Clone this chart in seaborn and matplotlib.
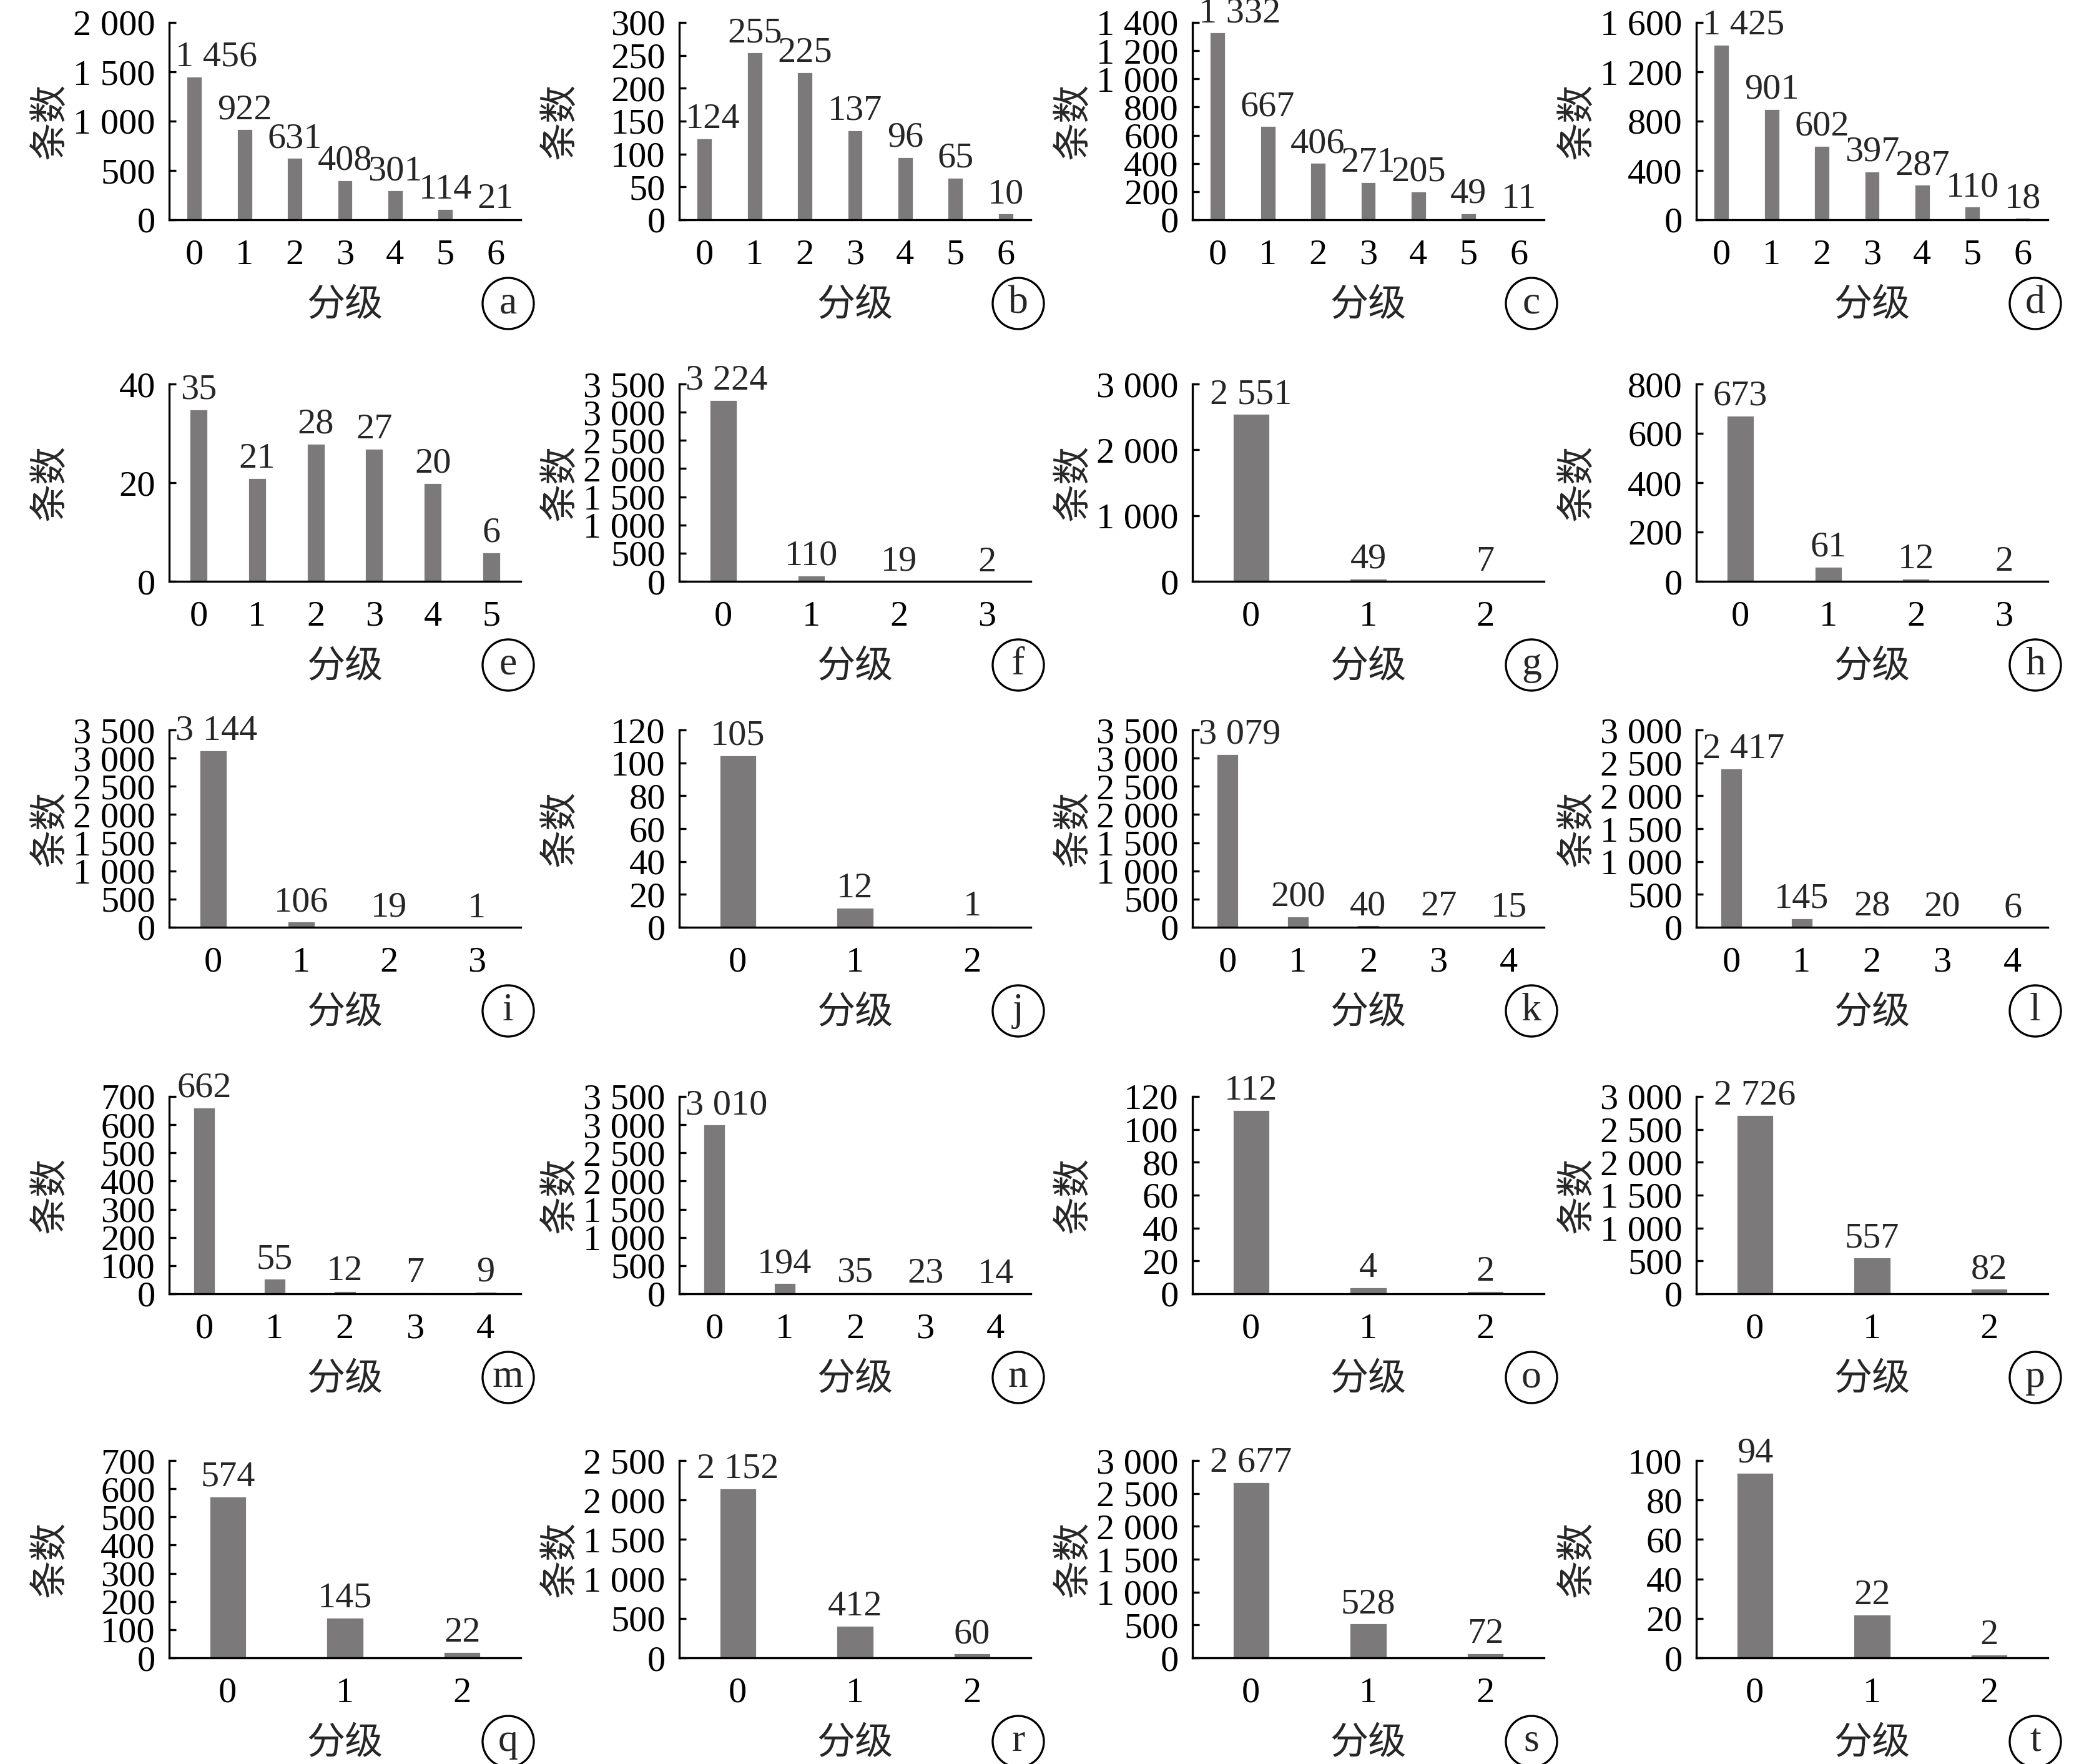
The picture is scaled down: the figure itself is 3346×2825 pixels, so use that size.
import matplotlib
matplotlib.use('Agg')
import matplotlib.pyplot as plt
import seaborn as sns
from matplotlib.patches import Ellipse

# panel letters and bar values (category index = position)
letters = list('abcdefghijklmnopqrst')
vals_a = [1456, 922, 631, 408, 301, 114, 21]
vals_b = [124, 255, 225, 137, 96, 65, 10]
vals_c = [1332, 667, 406, 271, 205, 49, 11]
vals_d = [1425, 901, 602, 397, 287, 110, 18]
vals_e = [35, 21, 28, 27, 20, 6]
vals_f = [3224, 110, 19, 2]
vals_g = [2551, 49, 7]
vals_h = [673, 61, 12, 2]
vals_i = [3144, 106, 19, 1]
vals_j = [105, 12, 1]
vals_k = [3079, 200, 40, 27, 15]
vals_l = [2417, 145, 28, 20, 6]
vals_m = [662, 55, 12, 7, 9]
vals_n = [3010, 194, 35, 23, 14]
vals_o = [112, 4, 2]
vals_p = [2726, 557, 82]
vals_q = [574, 145, 22]
vals_r = [2152, 412, 60]
vals_s = [2677, 528, 72]
vals_t = [94, 22, 2]
all_vals = [vals_a, vals_b, vals_c, vals_d, vals_e, vals_f, vals_g, vals_h, vals_i, vals_j,
            vals_k, vals_l, vals_m, vals_n, vals_o, vals_p, vals_q, vals_r, vals_s, vals_t]
# y-axis (max, step) per panel
y_max = [2000, 300, 1400, 1600, 40, 3500, 3000, 800, 3500, 120,
         3500, 3000, 700, 3500, 120, 3000, 700, 2500, 3000, 100]
y_step = [500, 50, 200, 400, 20, 500, 1000, 200, 500, 20,
          500, 500, 100, 500, 20, 500, 100, 500, 500, 20]

sns.set_theme(style='ticks')
fonts = ['Liberation Serif', 'Noto Sans CJK SC']
plt.rcParams['font.family'] = fonts

DPI = 200
W, H = 3346, 2825
fig = plt.figure(figsize=(W / DPI, H / DPI), dpi=DPI)

lefts = [271, 1088, 1910, 2717]
tops = [36, 615, 1169, 1756, 2339]
aw, ah = 563, 316
bar_color = '#7b7979'
fs = 21


def fmt(v):
    return f'{v:,}'.replace(',', ' ')


axes_labels = []
for i, vals in enumerate(all_vals):
    r, c = divmod(i, 4)
    x0, y0 = lefts[c], tops[r]
    ax = fig.add_axes([x0 / W, 1 - (y0 + ah) / H, aw / W, ah / H])
    cats = [str(k) for k in range(len(vals))]
    sns.barplot(x=cats, y=vals, ax=ax, color=bar_color, saturation=1, width=0.32)
    labs = ax.bar_label(ax.containers[0], labels=[fmt(v) for v in vals], padding=1.5,
                        fontsize=fs, family=fonts)
    axes_labels.append((ax, labs))
    ax.set_xlim(-0.5, len(vals) - 0.5)
    ax.set_ylim(0, y_max[i])
    ticks = list(range(0, y_max[i] + 1, y_step[i]))
    ax.set_yticks(ticks)
    ax.set_yticklabels([fmt(t) for t in ticks])
    sns.despine(ax=ax)
    for sp in ['left', 'bottom']:
        ax.spines[sp].set_linewidth(1.2)
        ax.spines[sp].set_color('black')
    ax.tick_params(axis='y', direction='in', length=4, width=1.2, pad=8,
                   labelsize=fs, colors='black')
    ax.tick_params(axis='x', length=0, pad=11, labelsize=fs, colors='black')
    ax.set_xlabel('')
    ax.set_ylabel('')
    ax.text(-188 / aw, 0.5, '条数', transform=ax.transAxes, rotation=90,
            ha='center', va='center', fontsize=fs + 1)
    ax.text(0.5, -139 / ah, '分级', transform=ax.transAxes,
            ha='center', va='center', fontsize=fs + 1)
    # circled panel letter
    cx = (x0 + aw - 20) / W
    cy = 1 - (y0 + ah + 134) / H
    rad = 41
    fig.add_artist(Ellipse((cx, cy), 2 * rad / W, 2 * rad / H, transform=fig.transFigure,
                           fill=False, ec='black', lw=1.2))
    fig.text(cx, cy, letters[i], ha='center', va='center', fontsize=fs + 2)

# keep value labels inside the plot area (shift right off the y axis)
fig.canvas.draw()
renderer = fig.canvas.get_renderer()
for ax, labs in axes_labels:
    spine_x = ax.transAxes.transform((0, 0))[0]
    for lab in labs:
        bb = lab.get_window_extent(renderer)
        if bb.x0 < spine_x + 10:
            shift = (spine_x + 10 - bb.x0) * 72 / DPI
            ox, oy = lab.xyann
            lab.xyann = (ox + shift, oy)

fig.savefig('out.png', dpi=DPI, facecolor='white')
